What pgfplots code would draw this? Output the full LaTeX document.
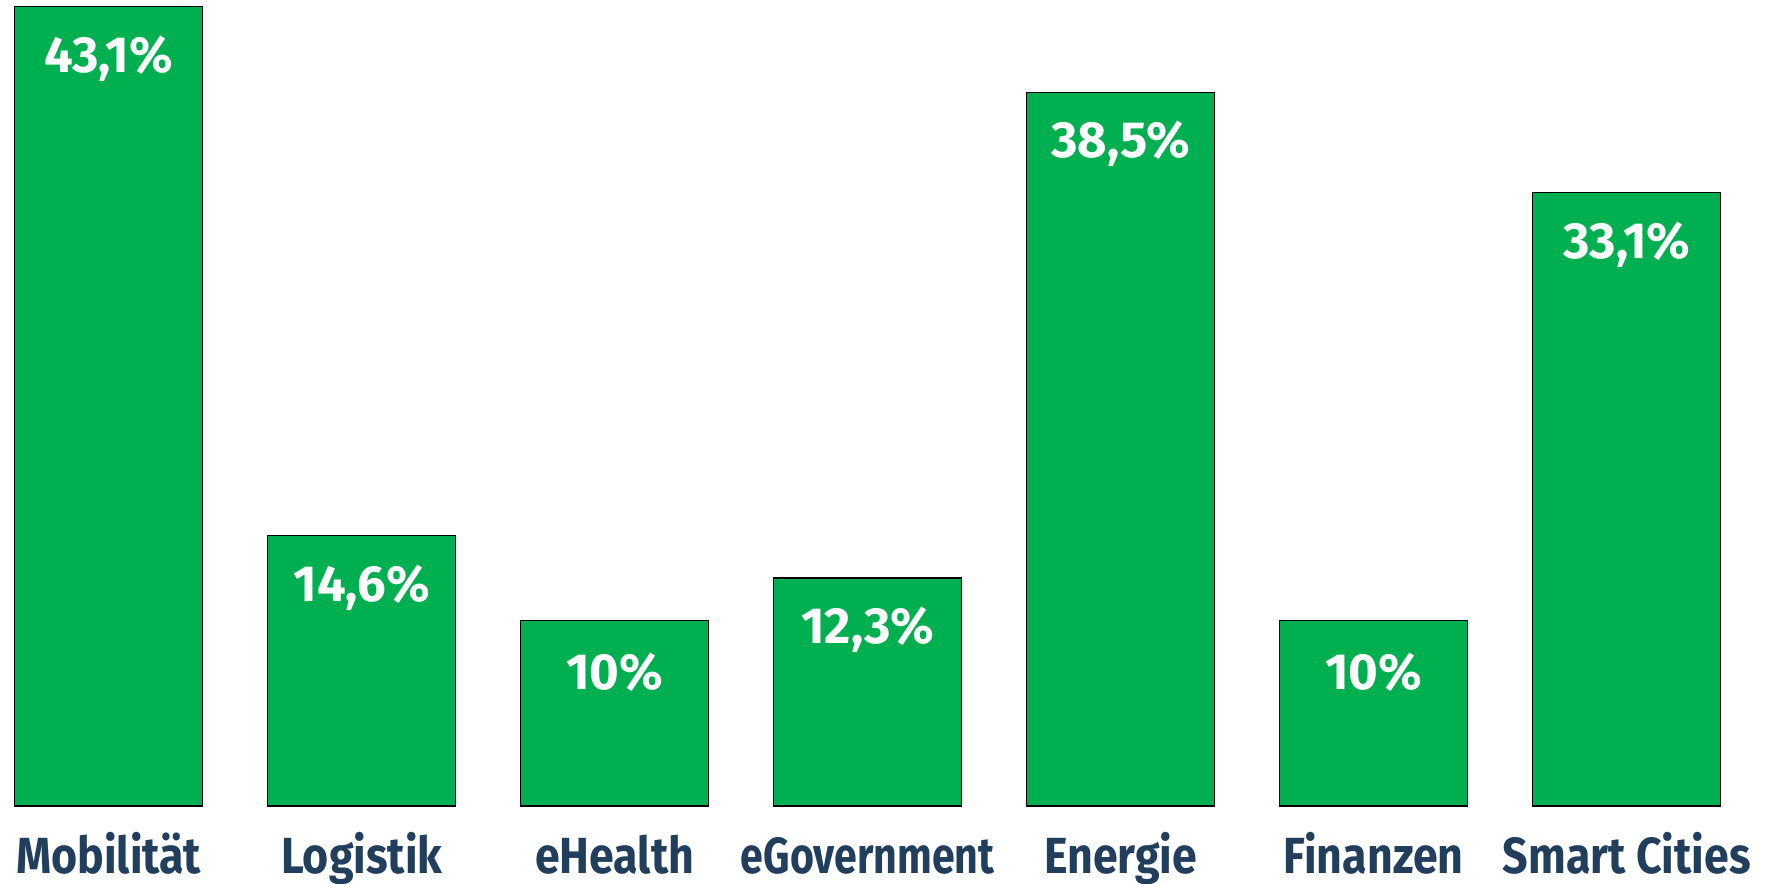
\documentclass[border=0pt]{standalone}
\usepackage{fontspec}
\usepackage{graphicx}
\setmainfont{Fira Sans}
\newfontfamily\labelfont[FakeStretch=0.88]{Fira Sans}
\usepackage{pgfplots}
\pgfplotsset{compat=1.18}
\definecolor{bargreen}{HTML}{00B050}
\definecolor{labelblue}{HTML}{213F5C}
\begin{document}
\begin{tikzpicture}
\begin{axis}[
  scale only axis,
  width=441.75pt, height=201.5pt,
  xmin=-0.43, xmax=6.5545,
  ymin=0, ymax=43.47,
  ybar, bar width=47pt,
  axis line style={draw=none},
  tick style={draw=none},
  ytick=\empty,
  xtick=data,
  xticklabels={Mobilität,Logistik,eHealth,\scalebox{0.92}[1]{eGovernment},Energie,Finanzen,Smart Cities},
  xticklabel style={font=\labelfont\bfseries\fontsize{12.7}{15}\selectfont, text=labelblue, anchor=north, text height=11pt, text depth=3pt, inner sep=0pt, yshift=-1.45pt},
  nodes near coords={\pgfmathprintnumber[use comma,assume math mode=true]{\pgfplotspointmeta}\%},
  every node near coord/.append style={font=\bfseries\fontsize{12.7}{15}\selectfont, text=white, anchor=center, yshift=-13pt},
  clip=false,
]
\addplot[fill=bargreen, draw=black, line width=0.3pt] coordinates {
  (0,43.1) (1,14.6) (2,10) (3,12.3) (4,38.5) (5,10) (6,33.1)
};
\end{axis}
\pgfresetboundingbox
\path (current axis.south west) ++(0,-19.25pt) rectangle ++(441.75pt,220.75pt);
\end{tikzpicture}
\end{document}
